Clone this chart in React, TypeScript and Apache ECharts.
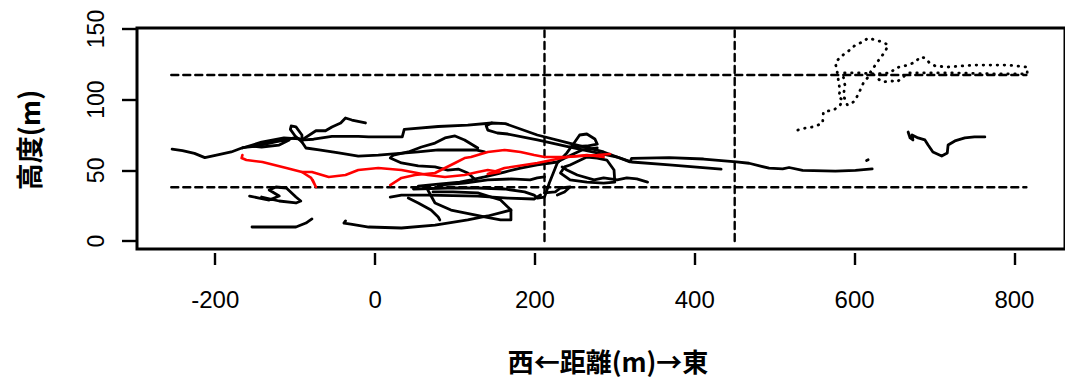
import React, { useEffect, useRef } from "react";
import * as echarts from "echarts";

// Axis ticks
const xTicks = [-200, 0, 200, 400, 600, 800];
const yTicks = [0, 50, 100, 150];

// Reference lines: heights (m) and east-west distances (m)
const refHeights = [38, 117.5];
const refSpan = [-255, 815];
const refDistances = [212, 450];
const refVSpan = [0, 149];

// Flight tracks: [distance (m), height (m)]
const trackLongWest = [
  [-254, 65], [-241, 64], [-226, 62], [-213, 59], [-197, 61], [-180, 63], [-166, 66],
  [-151, 67], [-133, 69], [-114, 71.5], [-101, 73], [-89, 71.5], [-77, 72], [-54, 74],
  [-21, 74], [-8, 73.6], [34, 73.6], [36.5, 79], [79, 81], [116, 82], [146, 83.5],
  [163, 83], [203, 75], [244, 69], [286, 63], [319, 56], [321, 58.5], [368, 59],
  [411, 58], [452, 56], [468, 55], [493, 51.5], [510, 51], [518, 52], [535, 50],
  [576, 49.5], [601, 50], [622, 51],
];
const trackUpperEast = [
  [146, 83.5], [139, 81.5], [141, 78.5], [153, 76.4], [166, 75.7], [203, 71.5],
  [244, 66.5], [303, 59.4], [321, 55.9], [368, 53.8], [433, 50.9],
];
const trackJagged = [
  [-91.5, 71.5], [-74, 78], [-62, 78], [-54, 80.7], [-43, 83.5], [-37, 87],
  [-29, 85.6], [-12, 83.5],
];
const trackSmallLoop = [
  [-105, 81.4], [-99, 80.7], [-91.5, 75], [-91.5, 70], [-100, 74.3], [-106, 79], [-105, 81.4],
];
const trackWestLoops = [
  [-166, 65.8], [-145, 69.3], [-120, 70.8], [-107.5, 71.5], [-120, 67.9], [-142, 66.5],
  [-157, 67.2], [-142, 70], [-114, 73], [-95, 72.2],
];
const trackMiddle = [
  [-91.5, 70], [-86.5, 65.8], [-70, 64.4], [-45.5, 62.3], [-21, 60.1], [4, 60.8],
  [23, 61.6], [54, 63], [79, 64.4], [126, 64.4], [137, 63],
];
const trackLens = [
  [126, 43.2], [116, 48.1], [104, 50.9], [91, 50.2], [75, 52.4], [54, 53.1], [33, 55.2],
  [19, 58.7], [23, 60.8], [41.5, 63], [58, 66.5], [75, 69.3], [87.5, 72.9], [100, 74.3],
  [112, 71.5], [128.5, 65.8],
];
const trackBelowRed = [
  [54, 38.9], [79, 40.3], [106, 41.7], [120, 43.2], [137, 45.3], [162, 48.8], [182, 51.6],
  [203, 53.8], [228, 55.9], [240, 59.4], [259, 64.4], [278, 65.8],
];
const trackShort = [
  [79, 39.6], [112, 41], [141, 43.2], [170, 43.9], [194, 43.2], [203, 44.6], [212, 45.3],
];
const trackClimb = [
  [48, 36.8], [91, 37.5], [128.5, 37.5], [162, 36.8], [187, 34.7], [199, 32.5], [203, 30.4],
  [212, 31.1], [218, 41], [228, 55.2], [240, 62.3], [249, 69.3], [256, 75], [265, 75.7],
  [275, 72.2], [278, 68.6], [265, 67.2], [244, 66.5],
];
const trackLowFlat = [
  [19, 31.1], [33, 32.5], [66, 32.5], [128.5, 31.8], [166, 30.4], [199, 29.7], [207, 32.5],
];
const trackBlob = [
  [66, 36.1], [75, 26.9], [95, 21.9], [137, 17], [157, 14.9], [170, 14.9], [170, 21.9],
  [157, 29], [128.5, 34], [97.5, 34.7], [72.5, 34.7],
];
const trackBottom = [
  [-37, 14.2], [-39, 12.7], [-30.5, 12], [-8, 9.9], [33, 9.2], [75, 11.3], [116, 14.9],
  [141, 17.7], [160, 20.5], [170, 21.9],
];
const trackDiagonal = [
  [41.5, 30.4], [54, 26.9], [70, 21.9], [79, 17], [81, 14.9],
];
const trackZigzag = [
  [-157, 31.8], [-145, 30.4], [-132.5, 29], [-120, 31.8], [-132.5, 36.1], [-124, 38.2],
  [-111, 37.5], [-99, 31.1], [-93, 28.3], [-99, 26.9], [-120, 28.3], [-142, 31.1],
];
const trackWestLow = [
  [-154, 9.9], [-124, 9.9], [-99, 9.9], [-86.5, 12.7], [-79, 15.6],
];
const trackEastLoop = [
  [244, 53.8], [265, 59.4], [278, 58.7], [290, 57.3], [299, 50.2], [300, 41.7], [286, 41],
  [265, 41.7], [244, 43.2], [232, 48.1], [237, 52.4], [244, 53.8],
];
const trackEastLow = [
  [234, 52.4], [240, 50.2], [253, 46.7], [274, 43.2], [286, 44.6], [303, 43.2], [315, 44.6],
  [327.5, 43.9], [341, 41.7],
];
const trackHook = [
  [212, 34], [225.5, 34.7], [232, 37.5], [244, 38.2], [237, 34.7], [228, 32.5],
];
const trackFarEast = [
  [667, 77.1], [669.5, 72.9], [673, 71.5], [672, 75], [679.5, 72.9], [688, 71.5], [692, 67.9],
  [698, 63], [709, 60.1], [716, 62.3], [717, 67.9], [725.5, 70.8], [738, 72.9], [750, 73.6],
  [763, 73.6],
];
const trackSpeck = [[615, 57], [617, 57.5]];

const redMain = [
  [-166, 60.8], [-167, 58.7], [-161, 57.3], [-141, 55.9], [-111, 51.6], [-91.5, 48.8],
  [-79, 48.8], [-58, 45.3], [-37, 46.7], [-21, 50.2], [4, 51.6], [33, 50.2], [66, 46.7],
  [87.5, 45.3], [112, 46.7], [128.5, 48.8], [141, 50.2], [156, 48.8], [141, 47.4],
  [162, 51.6], [203, 55.2], [240, 59.4], [278, 60.8], [294, 61.6],
];
const redUpper = [
  [19, 39.6], [33, 44.6], [50, 46.7], [75, 48.1], [100, 55.2], [112, 58.7], [120, 59.4],
  [141, 63], [162, 64.4], [182, 63], [199, 60.8], [212, 59.4], [240, 59.4], [265, 60.8],
  [286, 59.4],
];
const redTail = [[-91.5, 48.8], [-80, 44.6], [-74, 38.2], [-78, 43.2]];

const dottedTrack = [
  [529, 78.5], [539, 80], [547.5, 80.7], [554, 82], [560, 83.5], [561, 91.3], [567, 92],
  [574, 92.7], [582, 96.2], [585, 99.8], [580, 101.9], [582, 106.8], [580, 111.8],
  [579, 117.4], [576, 125.9], [582, 130.2], [591, 133.7], [601, 138.7], [610, 140.8],
  [617, 143.6], [626, 142.2], [635, 140.8], [642, 138.7], [638, 133.7], [632, 129.5],
  [626, 124.5], [620, 119.6], [616, 115.3], [611, 111.8], [607, 106.8], [601, 99.8],
  [597, 97.6], [591, 96.2], [586, 103], [588, 110], [585, 118.9], [605, 118.9],
  [626, 118.2], [645, 118.9], [651, 122.4], [667, 124.5], [676, 126.6], [682, 130.2],
  [688, 129.5], [694, 125.9], [701, 123.8], [717, 123.1], [750, 124.5], [791, 124.5],
  [816, 123.1], [816, 118.2], [775, 118.2], [725, 118.9], [667, 118.9], [653, 112.5],
  [647, 113.2], [635, 112.5], [626, 116],
];

const blackTracks = [
  trackLongWest, trackUpperEast, trackJagged, trackSmallLoop, trackWestLoops, trackMiddle,
  trackLens, trackBelowRed, trackShort, trackClimb, trackLowFlat, trackBlob, trackBottom,
  trackDiagonal, trackZigzag, trackWestLow, trackEastLoop, trackEastLow, trackHook,
  trackFarEast, trackSpeck,
];
const redTracks = [redMain, redUpper, redTail];

const BASE_FONT = '"Liberation Sans", Arial, Helvetica, sans-serif';
const CJK_FONT = '"Noto Sans CJK JP", "Noto Sans CJK SC", sans-serif';

export default function App() {
  const ref = useRef<HTMLDivElement>(null);

  useEffect(() => {
    if (!ref.current) return;
    const chart = echarts.init(ref.current, undefined, { renderer: "svg" });

    const lineSeries = (data: number[][], color: string, width: number, type: any = "solid", z = 2) => ({
      type: "line",
      data,
      showSymbol: false,
      symbol: "none",
      silent: true,
      z,
      lineStyle: { color, width, type, cap: "round", join: "round" },
    });

    const series: any[] = [];
    refHeights.forEach((h) =>
      series.push(lineSeries([[refSpan[0], h], [refSpan[1], h]], "#000", 2.4, [7, 5], 1))
    );
    refDistances.forEach((d) =>
      series.push(lineSeries([[d, refVSpan[0]], [d, refVSpan[1]]], "#000", 2.4, [7, 5], 1))
    );
    blackTracks.forEach((t) => series.push(lineSeries(t, "#000", 2.8)));
    redTracks.forEach((t) => series.push(lineSeries(t, "#ff0000", 2.6, "solid", 3)));
    series.push(lineSeries(dottedTrack, "#000", 2.8, [0.5, 6.5]));

    chart.setOption({
      animation: false,
      backgroundColor: "#fff",
      grid: {
        left: 137,
        top: 28,
        width: 934,
        height: 221,
        show: true,
        borderColor: "#000",
        borderWidth: 3,
        containLabel: false,
      },
      xAxis: {
        type: "value",
        min: -297.9,
        max: 863.3,
        offset: 4,
        axisLine: { show: false, onZero: false },
        splitLine: { show: false },
        axisTick: {
          show: true,
          length: 12,
          lineStyle: { color: "#000", width: 2.4 },
          customValues: xTicks,
        },
        axisLabel: {
          customValues: xTicks,
          fontSize: 24,
          color: "#000",
          margin: 34,
          fontFamily: BASE_FONT,
        },
      },
      yAxis: {
        type: "value",
        min: -5.66,
        max: 150.7,
        axisLine: { show: false, onZero: false },
        splitLine: { show: false },
        axisTick: {
          show: true,
          length: 15,
          lineStyle: { color: "#000", width: 2.4 },
          customValues: yTicks,
        },
        axisLabel: {
          customValues: yTicks,
          rotate: 90,
          fontSize: 23,
          color: "#000",
          margin: 30,
          fontFamily: BASE_FONT,
        },
      },
      graphic: [
        {
          type: "text",
          x: 28,
          y: 140,
          rotation: Math.PI / 2,
          style: {
            text: "高度(m)",
            font: `bold 27px ${CJK_FONT}`,
            fill: "#000",
            align: "center",
            verticalAlign: "middle",
          },
        },
        {
          type: "text",
          x: 608,
          y: 360,
          style: {
            text: "西←距離(m)→東",
            font: `bold 26px ${CJK_FONT}`,
            fill: "#000",
            align: "center",
            verticalAlign: "middle",
          },
        },
      ],
      series,
    });

    return () => chart.dispose();
  }, []);

  return (
    <div
      ref={ref}
      style={{ position: "absolute", left: 0, top: 0, width: 1065, height: 383 }}
    />
  );
}
